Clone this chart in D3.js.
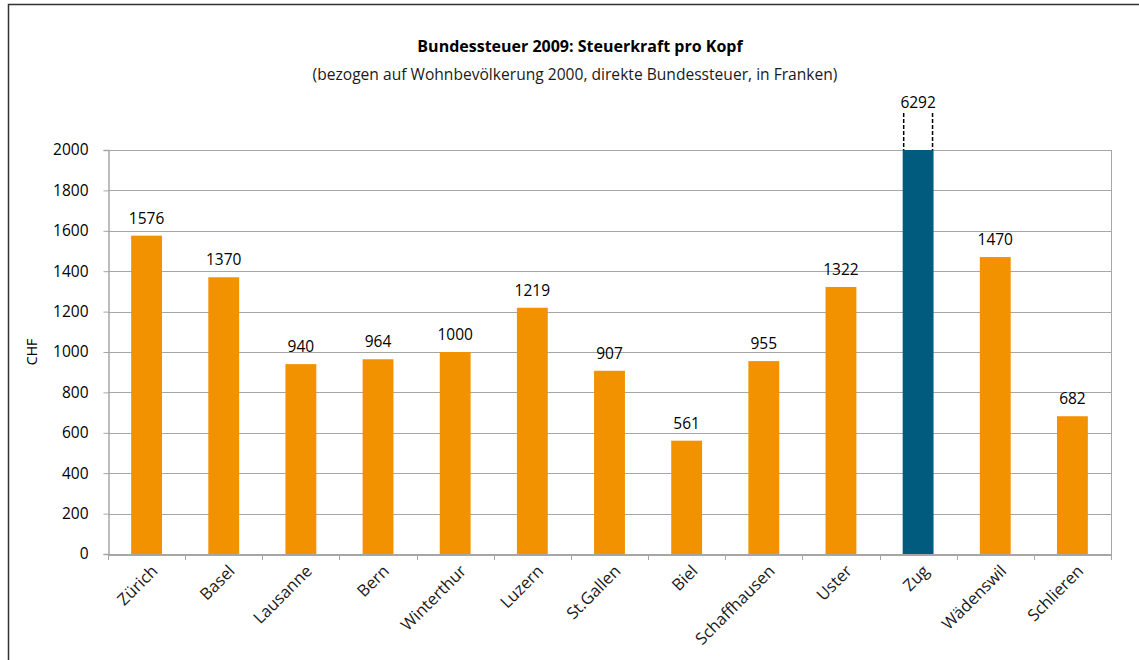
<!DOCTYPE html>
<html><head><meta charset="utf-8">
<script src="https://cdn.jsdelivr.net/npm/d3@7"></script>
<style>body{margin:0;background:#fff}svg{display:block;font-family:"Open Sans",sans-serif}</style>
</head><body><svg id="c" width="1139" height="660"></svg>
<script>
const categories=["Zürich","Basel","Lausanne","Bern","Winterthur","Luzern","St.Gallen","Biel","Schaffhausen","Uster","Zug","Wädenswil","Schlieren"];
const values=[1576,1370,940,964,1000,1219,907,561,955,1322,6292,1470,682];
const yTicks=[0,200,400,600,800,1000,1200,1400,1600,1800,2000];
const highlight="Zug";
const title="Bundessteuer 2009: Steuerkraft pro Kopf";
const subtitle="(bezogen auf Wohnbevölkerung 2000, direkte Bundessteuer, in Franken)";

const svg=d3.select("#c");
const m={l:108,r:1111,t:150,b:554};
svg.append("path").attr("d","M8.5,660V4.5H1139").attr("fill","none").attr("stroke","#333").attr("stroke-width",1.5);

const x=d3.scaleBand().domain(categories).range([m.l,m.r]).paddingInner(0.6).paddingOuter(0.3);
const y=d3.scaleLinear().domain([0,2000]).range([m.b,m.t]);
const xb=d3.scaleBand().domain(categories).range([m.l,m.r]);

svg.append("g").selectAll("line").data(yTicks.filter(d=>d>0)).join("line")
 .attr("x1",m.l).attr("x2",m.r).attr("y1",d=>Math.round(y(d))+0.5).attr("y2",d=>Math.round(y(d))+0.5)
 .attr("stroke","#a6a6a6").attr("stroke-width",1);
svg.append("line").attr("x1",m.r+0.5).attr("x2",m.r+0.5).attr("y1",m.t).attr("y2",m.b).attr("stroke","#a6a6a6");

svg.append("g").selectAll("rect").data(categories).join("rect")
 .attr("x",d=>x(d)).attr("width",x.bandwidth())
 .attr("y",(d,i)=>y(Math.min(values[i],2000))).attr("height",(d,i)=>m.b-y(Math.min(values[i],2000)))
 .attr("fill",d=>d===highlight?"#005b7f":"#f39200");

const ya=svg.append("g").attr("transform",`translate(${m.l+0.5},0)`)
 .call(d3.axisLeft(y).tickValues(yTicks).tickSize(5).tickPadding(15).tickFormat(d3.format("d")));
ya.selectAll("path,line").attr("stroke","#a6a6a6");
ya.selectAll("text").attr("fill","#000").style("font-size","15.5px").style("font-family","Open Sans");
ya.select(".domain").attr("stroke-width",1.5);

const xa=svg.append("g").attr("transform",`translate(0,${m.b+0.5})`)
 .call(d3.axisBottom(xb).tickSize(0).tickFormat(""));
xa.select(".domain").attr("stroke","#a6a6a6").attr("stroke-width",2);
xa.selectAll(".tick").remove();
svg.append("g").selectAll("line").data(categories.concat(["__end"])).join("line")
 .attr("x1",(d,i)=>Math.round(m.l+i*xb.bandwidth())+0.5).attr("x2",(d,i)=>Math.round(m.l+i*xb.bandwidth())+0.5)
 .attr("y1",m.b).attr("y2",m.b+6).attr("stroke","#a6a6a6");
svg.append("g").selectAll("text").data(categories).join("text")
 .attr("transform",d=>`translate(${xb(d)+xb.bandwidth()/2+8},${m.b+14}) rotate(-45)`)
 .attr("text-anchor","end").attr("dy","0.35em").style("font-size","16.5px").attr("fill","#1a1a1a").text(d=>d);

svg.append("g").selectAll("text").data(categories).join("text")
 .attr("x",d=>x(d)+x.bandwidth()/2)
 .attr("y",(d,i)=>values[i]>2000?108:y(values[i])-12)
 .attr("text-anchor","middle").style("font-size","15.5px").attr("fill","#000")
 .text((d,i)=>values[i]);

categories.forEach((d,i)=>{ if(values[i]>2000){
  [x(d)+1,x(d)+x.bandwidth()-1].forEach(px=>{
   svg.append("line").attr("x1",px).attr("x2",px).attr("y1",113).attr("y2",m.t)
    .attr("stroke","#000").attr("stroke-width",1.5).attr("stroke-dasharray","4,2");
  });
}});

svg.append("text").attr("x",580).attr("y",52).attr("text-anchor","middle").style("font-size","16px").style("font-weight","bold").text(title);
svg.append("text").attr("x",575).attr("y",80).attr("text-anchor","middle").style("font-size","15.6px").attr("fill","#1a1a1a").text(subtitle);
svg.append("text").attr("transform","translate(37,352) rotate(-90)").attr("text-anchor","middle").style("font-size","14px").text("CHF");
</script></body></html>
